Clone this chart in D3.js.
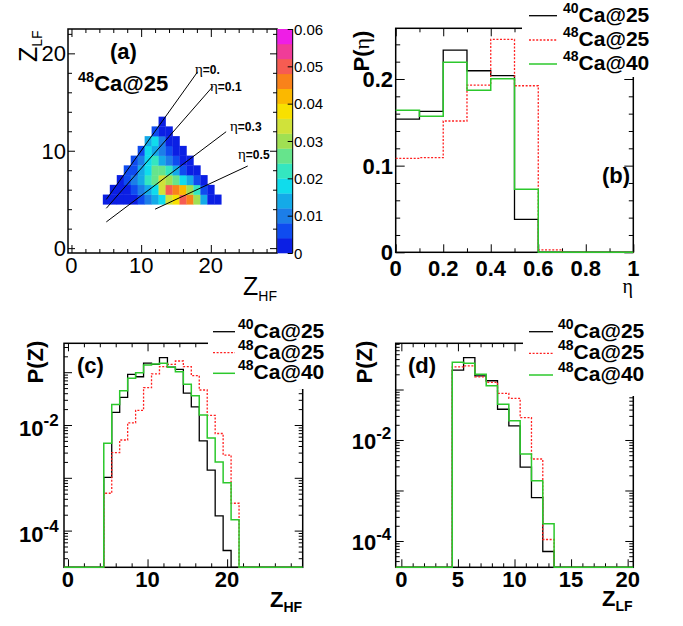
<!DOCTYPE html>
<html><head><meta charset="utf-8">
<script src="https://cdn.jsdelivr.net/npm/d3@7/dist/d3.min.js"></script>
<style>html,body{margin:0;padding:0;background:#fff}svg{display:block}</style>
</head><body>
<svg id="fig" width="683" height="626" xmlns="http://www.w3.org/2000/svg"></svg>
<script>
// ================= DATA =================
const seriesSup  = ["40", "48", "48"];
const seriesMain = ["Ca@25", "Ca@25", "Ca@40"];

// (a) 2D map Z_LF (rows) vs Z_HF; each row starts at Z_HF = Z_LF
const heatZlf = [5, 6, 7, 8, 9, 10, 11, 12, 13];
const heatRows = [
  [0.002,0.002,0.002,0.003,0.003,0.004,0.010,0.014,0.018,0.034,0.038,0.050,0.046,0.030,0.014,0.002,0.002],
  [0.002,0.002,0.003,0.006,0.008,0.013,0.018,0.034,0.050,0.046,0.042,0.030,0.020,0.006,0.002],
  [0.003,0.006,0.009,0.014,0.020,0.026,0.034,0.030,0.024,0.019,0.012,0.006,0.002],
  [0.004,0.007,0.013,0.018,0.025,0.026,0.022,0.014,0.007,0.003,0.002],
  [0.005,0.010,0.017,0.021,0.015,0.009,0.005,0.003,0.002],
  [0.006,0.018,0.014,0.009,0.006,0.003,0.002],
  [0.013,0.017,0.008,0.003,0.002],
  [0.006,0.003,0.002],
  [0.002]
];
const paletteColors = ["#0b1fe4","#0f4cf0","#1c7ee8","#14aae8","#10dcec","#34e6c0","#66e48c",
  "#a0e052","#d0e23a","#f8e000","#fbb800","#f9821a","#f65c52","#f03c98","#ee1ee6"];
const colorbarTicks = [0, 0.01, 0.02, 0.03, 0.04, 0.05, 0.06];
const colorbarLabels = ["0", "0.01", "0.02", "0.03", "0.04", "0.05", "0.06"];
const etaValues   = [0, 0.1, 0.3, 0.5];
const etaLabels   = ["0.", "0.1", "0.3", "0.5"];
const etaLineFrom = [5, 5, 5, 12];
const etaLineTo   = [18.1, 20.3, 22.2, 25.3];
const aTicks = [0, 10, 20];

// (b) P(eta)
const etaEdges   = [0,0.1,0.2,0.3,0.4,0.5,0.6,0.7,0.8,0.9,1.0];
const pEta40Ca25 = [0.1538,0.1627,0.2334,0.2095,0.2038,0.038,0,0,0,0];
const pEta48Ca25 = [0.1085,0.1092,0.1515,0.193,0.2457,0.1922,0.0027,0,0,0];
const pEta48Ca40 = [0.1638,0.157,0.2192,0.187,0.2003,0.0727,0,0,0,0];
const bXTicks = [0, 0.2, 0.4, 0.6, 0.8, 1];
const bXLabels = ["0", "0.2", "0.4", "0.6", "0.8", "1"];
const bYTicks = [0, 0.1, 0.2];
const bYLabels = ["0", "0.1", "0.2"];

// (c) P(Z_HF)
const zhfBins   = [5,6,7,8,9,10,11,12,13,14,15,16,17,18,19,20,21];
const zhf40Ca25 = [1.02e-3,0.0174,0.0335,0.091,0.082,0.148,0.141,0.188,0.124,0.113,0.040,0.022,0.0050,1.4e-3,1.9e-4,4.2e-5,0];
const zhf48Ca25 = [5.1e-4,3.0e-3,5.2e-3,0.011,0.019,0.051,0.093,0.127,0.141,0.163,0.127,0.086,0.046,0.0152,6.9e-3,2.7e-3,3.3e-4];
const zhf48Ca40 = [4.5e-3,0.0245,0.0447,0.077,0.098,0.137,0.143,0.148,0.124,0.102,0.059,0.036,0.0155,5.7e-3,2.0e-3,8.1e-4,1.6e-4];
const cXTicks = [0, 10, 20];

// (d) P(Z_LF)
const zlfBins   = [5,6,7,8,9,10,11,12,13];
const zlf40Ca25 = [0.243,0.427,0.187,0.149,0.0406,0.019,2.9e-3,7.2e-4,6.2e-5];
const zlf48Ca25 = [0.28,0.295,0.178,0.139,0.084,0.067,0.0277,4.2e-3,1.07e-4];
const zlf48Ca40 = [0.347,0.33,0.2,0.119,0.051,0.024,5.3e-3,1.56e-3,2.2e-4];
const dXTicks = [0, 5, 10, 15, 20];

const logTicks  = [1e-4, 1e-2];
const logLabels = ["-4", "-2"];

// ================= STYLE =================
const SANS = "'Liberation Sans', Arial, Helvetica, sans-serif";
const SERIF = "'Liberation Serif', 'DejaVu Serif', serif";
const lineStyles = [
  {stroke: "#000000", dash: null, w: 1.3},
  {stroke: "#ff2020", dash: "2,1.6", w: 1.3},
  {stroke: "#2cc82c", dash: null, w: 1.5}
];

const svg = d3.select("#fig");
svg.append("rect").attr("width", 683).attr("height", 626).attr("fill", "#fff");

function rich(g, x, y, parts, opt = {}) {
  const t = g.append("text")
    .attr("font-family", opt.family || SANS)
    .attr("font-weight", opt.weight || "normal")
    .attr("font-size", opt.size || 20)
    .attr("text-anchor", opt.anchor || "start")
    .attr("fill", "#000");
  if (opt.rotate) t.attr("transform", `translate(${x},${y}) rotate(${opt.rotate})`);
  else t.attr("x", x).attr("y", y);
  parts.forEach(p => {
    const s = t.append("tspan").text(p[0]);
    const o = p[1] || {};
    if (o.size) s.attr("font-size", o.size);
    if (o.dy) s.attr("dy", o.dy);
    if (o.family) s.attr("font-family", o.family);
    if (o.weight) s.attr("font-weight", o.weight);
  });
  return t;
}

function addTicks(g, scale, vals, len, side, f) {
  let axis, tr;
  if (side === "bottom") { axis = d3.axisBottom(scale); tr = `translate(0,${f.y1})`; }
  if (side === "top")    { axis = d3.axisTop(scale);    tr = `translate(0,${f.y0})`; }
  if (side === "left")   { axis = d3.axisLeft(scale);   tr = `translate(${f.x0},0)`; }
  if (side === "right")  { axis = d3.axisRight(scale);  tr = `translate(${f.x1},0)`; }
  axis.tickValues(vals).tickSize(-len).tickFormat("");
  const a = g.append("g").attr("transform", tr).call(axis);
  a.select(".domain").remove();
  a.selectAll("line").attr("stroke", "#000").attr("stroke-width", 1);
}

function frameRect(g, f) {
  g.append("rect").attr("x", f.x0).attr("y", f.y0)
    .attr("width", f.x1 - f.x0).attr("height", f.y1 - f.y0)
    .attr("fill", "none").attr("stroke", "#000").attr("stroke-width", 1.5);
}

function logMinors(lo, hi) {
  const out = [];
  for (let d = -6; d <= 0; d++) for (let m = 2; m <= 9; m++) {
    const v = m * Math.pow(10, d);
    if (v > lo && v < hi) out.push(v);
  }
  return out;
}
function logMajors(lo, hi) {
  const out = [];
  for (let d = -6; d <= 0; d++) { const v = Math.pow(10, d); if (v >= lo && v <= hi) out.push(v); }
  return out;
}

function stepLine(g, x, y, edges, vals, style, floorY) {
  const pts = vals.map((v, i) => [edges[i], v]);
  pts.push([edges[edges.length - 1], vals[vals.length - 1]]);
  const line = d3.line()
    .x(d => x(d[0]))
    .y(d => (d[1] > 0 ? Math.min(y(d[1]), floorY) : floorY))
    .curve(d3.curveStepAfter);
  const p = g.append("path").attr("d", line(pts))
    .attr("fill", "none").attr("stroke", style.stroke).attr("stroke-width", style.w);
  if (style.dash) p.attr("stroke-dasharray", style.dash);
}

function legend(g, box, x0, x1, xt, rows) {
  g.append("rect").attr("x", box[0]).attr("y", box[1]).attr("width", box[2]).attr("height", box[3]).attr("fill", "#fff");
  rows.forEach((ry, i) => {
    const s = lineStyles[i];
    const l = g.append("line").attr("x1", x0).attr("x2", x1).attr("y1", ry).attr("y2", ry)
      .attr("stroke", s.stroke).attr("stroke-width", s.w);
    if (s.dash) l.attr("stroke-dasharray", s.dash);
    rich(g, xt, ry + 6, [[seriesSup[i], {size: 14, dy: -9}], [seriesMain[i], {size: 21, dy: 9}]], {weight: "bold"});
  });
}

// ================= PANEL (a) =================
{
  const g = svg.append("g");
  const f = {x0: 68, x1: 277, y0: 29, y1: 253};
  const x = d3.scaleLinear().domain([-0.5, 29.5]).range([f.x0, f.x1]);
  const y = d3.scaleLinear().domain([-0.5, 22.5]).range([f.y1, f.y0]);
  const color = d3.scaleQuantize().domain([0, 0.06]).range(paletteColors);
  const cells = [];
  heatRows.forEach((row, i) => row.forEach((v, j) => cells.push({zlf: heatZlf[i], zhf: heatZlf[i] + j, v})));
  const cw = x(1) - x(0), ch = y(0) - y(1);
  g.selectAll("rect.cell").data(cells).join("rect").attr("class", "cell")
    .attr("x", d => x(d.zhf - 0.5)).attr("y", d => y(d.zlf + 0.5))
    .attr("width", cw + 0.3).attr("height", ch + 0.3)
    .attr("fill", d => color(d.v));

  frameRect(g, f);
  const xMin = d3.range(0, 30, 2).filter(v => v % 10);
  const yMin = d3.range(0, 23, 2).filter(v => v % 10);
  addTicks(g, x, aTicks, 8, "bottom", f); addTicks(g, x, xMin, 4, "bottom", f);
  addTicks(g, x, aTicks, 8, "top", f);    addTicks(g, x, xMin, 4, "top", f);
  addTicks(g, y, aTicks, 7, "left", f);   addTicks(g, y, yMin, 4, "left", f);
  addTicks(g, y, aTicks, 7, "right", f);  addTicks(g, y, yMin, 4, "right", f);

  aTicks.forEach(v => rich(g, x(v), 273, [[String(v)]], {size: 22, anchor: "middle"}));
  aTicks.forEach(v => rich(g, 66, y(v) + 8, [[String(v)]], {size: 22, anchor: "end"}));

  // eta lines
  const etaLabelPos = [[195, 74], [210, 91], [230, 131], [238, 159]];
  etaValues.forEach((e, i) => {
    const r = (1 - e) / (1 + e);
    g.append("line")
      .attr("x1", x(etaLineFrom[i])).attr("y1", y(etaLineFrom[i] * r))
      .attr("x2", x(etaLineTo[i])).attr("y2", y(etaLineTo[i] * r))
      .attr("stroke", "#000").attr("stroke-width", 1);
    rich(g, etaLabelPos[i][0], etaLabelPos[i][1],
      [["η", {family: SERIF, weight: "normal", size: 15}], ["=" + etaLabels[i], {}]],
      {size: 12, weight: "bold"});
  });

  rich(g, 110, 59, [["(a)"]], {size: 22, weight: "bold"});
  rich(g, 78, 91, [["48", {size: 14.5, dy: -9}], ["Ca@25", {size: 22, dy: 9}]], {weight: "bold"});

  // axis titles
  rich(g, 243, 295, [["Z"], ["HF", {size: 14, dy: 6}]], {size: 25});
  rich(g, 37, 62, [["Z"], ["LF", {size: 14, dy: 5}]], {size: 25, rotate: -90});

  // colour bar
  const cb = {x0: 277.3, x1: 292.7, y0: 29, y1: 253};
  const cy = d3.scaleLinear().domain([0, 0.06]).range([cb.y1, cb.y0]);
  const bands = paletteColors.map((c, i) => ({c, lo: i * 0.06 / paletteColors.length, hi: (i + 1) * 0.06 / paletteColors.length}));
  g.selectAll("rect.band").data(bands).join("rect").attr("class", "band")
    .attr("x", cb.x0).attr("width", cb.x1 - cb.x0)
    .attr("y", d => cy(d.hi)).attr("height", d => cy(d.lo) - cy(d.hi) + 0.3)
    .attr("fill", d => d.c);
  g.append("line").attr("x1", cb.x1).attr("x2", cb.x1).attr("y1", cb.y0).attr("y2", cb.y1).attr("stroke", "#000").attr("stroke-width", 1);
  addTicks(g, cy, colorbarTicks, 5, "right", cb);
  colorbarTicks.forEach((v, i) => rich(g, 294, cy(v) + 5.5, [[colorbarLabels[i]]], {size: 15}));
}

// ================= PANEL (b) =================
{
  const g = svg.append("g");
  const f = {x0: 395.7, x1: 633.3, y0: 28.3, y1: 252.3};
  const x = d3.scaleLinear().domain([0, 1]).range([f.x0, f.x1]);
  const y = d3.scaleLinear().domain([0, 0.2585]).range([f.y1, f.y0]);
  frameRect(g, f);
  const xMin = [0.1, 0.3, 0.5, 0.7, 0.9];
  const yMin = d3.range(0.02, 0.26, 0.02).filter(v => Math.abs(v - 0.1) > 1e-6 && Math.abs(v - 0.2) > 1e-6);
  ["bottom", "top"].forEach(s => { addTicks(g, x, bXTicks, 8, s, f); addTicks(g, x, xMin, 4, s, f); });
  ["left", "right"].forEach(s => { addTicks(g, y, bYTicks, 9, s, f); addTicks(g, y, yMin, 4.5, s, f); });
  bXTicks.forEach((v, i) => rich(g, x(v), 276, [[bXLabels[i]]], {size: 22, weight: "bold", anchor: "middle"}));
  bYTicks.forEach((v, i) => rich(g, 393, y(v) + 8, [[bYLabels[i]]], {size: 22, weight: "bold", anchor: "end"}));

  [pEta40Ca25, pEta48Ca25, pEta48Ca40].forEach((vals, i) => stepLine(g, x, y, etaEdges, vals, lineStyles[i], f.y1));

  rich(g, 633, 293, [["η"]], {size: 20, anchor: "end", family: SERIF});
  rich(g, 369, 51, [["P("], ["η", {family: SERIF, weight: "normal"}], [")"]], {size: 22, weight: "bold", rotate: -90, anchor: "middle"});
  rich(g, 602, 183, [["(b)"]], {size: 22, weight: "bold"});
  legend(g, [522, 0, 161, 77], 529, 557, 563, [15.7, 40, 64]);
}

// ================= PANEL (c) =================
{
  const g = svg.append("g");
  const f = {x0: 64, x1: 302.7, y0: 343.3, y1: 567.3};
  const x = d3.scaleLinear().domain([-0.5, 29.5]).range([f.x0, f.x1]);
  const y = d3.scaleLog().domain([Math.pow(10, -4.695), Math.pow(10, -0.4527)]).range([f.y1, f.y0]);
  frameRect(g, f);
  const xMin = d3.range(0, 30, 2).filter(v => v % 10);
  const [lo, hi] = y.domain();
  ["bottom", "top"].forEach(s => { addTicks(g, x, cXTicks, 8, s, f); addTicks(g, x, xMin, 4, s, f); });
  ["left", "right"].forEach(s => { addTicks(g, y, logMajors(lo, hi), 8, s, f); addTicks(g, y, logMinors(lo, hi), 4, s, f); });
  cXTicks.forEach(v => rich(g, x(v), 587, [[String(v)]], {size: 22, weight: "bold", anchor: "middle"}));
  logTicks.forEach((v, i) => rich(g, 19, y(v) + 11, [["10"], [logLabels[i], {size: 17, dy: -10}]], {size: 22, weight: "bold"}));

  const edges = d3.range(-0.5, 30, 1);
  const full = arr => d3.range(0, 30).map(z => { const k = zhfBins.indexOf(z); return k >= 0 ? arr[k] : 0; });
  [zhf40Ca25, zhf48Ca25, zhf48Ca40].forEach((vals, i) => stepLine(g, x, y, edges, full(vals), lineStyles[i], f.y1));

  rich(g, 270, 607, [["Z"], ["HF", {size: 14, dy: 5}]], {size: 22, weight: "bold"});
  rich(g, 43, 362, [["P(Z)"]], {size: 22, weight: "bold", rotate: -90, anchor: "middle"});
  rich(g, 77, 373, [["(c)"]], {size: 22, weight: "bold"});
  legend(g, [208, 316, 132, 73], 213, 235, 238, [331.7, 352.7, 373.3]);
}

// ================= PANEL (d) =================
{
  const g = svg.append("g");
  const f = {x0: 395.7, x1: 633.3, y0: 343.3, y1: 567.3};
  const x = d3.scaleLinear().domain([-0.5, 20.5]).range([f.x0, f.x1]);
  const y = d3.scaleLog().domain([Math.pow(10, -4.521), Math.pow(10, -0.085)]).range([f.y1, f.y0]);
  frameRect(g, f);
  const xMin = d3.range(0, 21, 1).filter(v => v % 5);
  const [lo, hi] = y.domain();
  ["bottom", "top"].forEach(s => { addTicks(g, x, dXTicks, 8, s, f); addTicks(g, x, xMin, 4, s, f); });
  ["left", "right"].forEach(s => { addTicks(g, y, logMajors(lo, hi), 8, s, f); addTicks(g, y, logMinors(lo, hi), 4, s, f); });
  dXTicks.forEach(v => rich(g, x(v), 587, [[String(v)]], {size: 22, weight: "bold", anchor: "middle"}));
  logTicks.forEach((v, i) => rich(g, 351.7, y(v) + 9, [["10"], [logLabels[i], {size: 17, dy: -10}]], {size: 22, weight: "bold"}));

  const edges = d3.range(-0.5, 21, 1);
  const full = arr => d3.range(0, 21).map(z => { const k = zlfBins.indexOf(z); return k >= 0 ? arr[k] : 0; });
  [zlf40Ca25, zlf48Ca25, zlf48Ca40].forEach((vals, i) => stepLine(g, x, y, edges, full(vals), lineStyles[i], f.y1));

  rich(g, 602, 606, [["Z"], ["LF", {size: 14, dy: 5}]], {size: 22, weight: "bold"});
  rich(g, 372, 362, [["P(Z)"]], {size: 22, weight: "bold", rotate: -90, anchor: "middle"});
  rich(g, 408, 373, [["(d)"]], {size: 22, weight: "bold"});
  legend(g, [523, 316, 160, 80], 529, 553, 558, [331.7, 353.3, 375]);
}
</script>
</body></html>
